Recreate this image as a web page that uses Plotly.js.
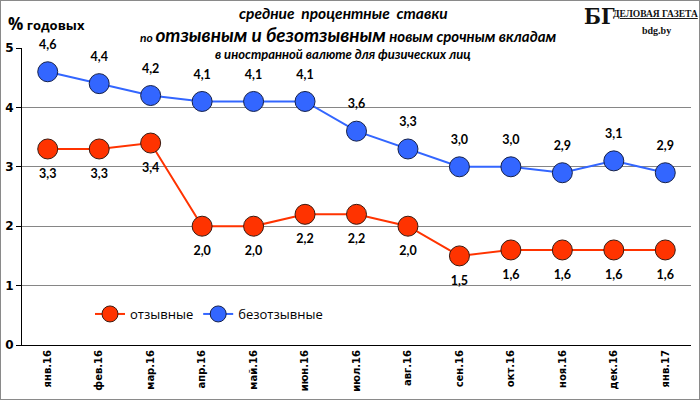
<!DOCTYPE html>
<html>
<head>
<meta charset="utf-8">
<script src="https://cdn.plot.ly/plotly-3.0.1.min.js"></script>
<style>
  body { margin: 0; }
  #chart { width: 700px; height: 400px; }
  #frame { position: absolute; left: 0; top: 0; width: 698px; height: 398px; border: 1px solid #8a8a8a; pointer-events: none; }
</style>
</head>
<body>
<div id="chart"></div>
<div id="frame"></div>
<script>
// months
const months = ['янв.16', 'фев.16', 'мар.16', 'апр.16', 'май.16', 'июн.16', 'июл.16',
  'авг.16', 'сен.16', 'окт.16', 'ноя.16', 'дек.16', 'янв.17'];

// series values, % годовых
const revocable = [3.3, 3.3, 3.4, 2.0, 2.0, 2.2, 2.2, 2.0, 1.5, 1.6, 1.6, 1.6, 1.6];
const irrevocable = [4.6, 4.4, 4.2, 4.1, 4.1, 4.1, 3.6, 3.3, 3.0, 3.0, 2.9, 3.1, 2.9];

const yTicks = [0, 1, 2, 3, 4, 5];

const toLabel = v => v.toFixed(1).replace('.', ',');

const labelFont = { family: 'Lato, sans-serif', size: 12.5, color: '#000', weight: 'bold' };

function series(name, values, color, edge) {
  return {
    x: months,
    y: values,
    name: name,
    mode: 'lines+markers',
    line: { color: color, width: 2 },
    marker: { color: color, size: 20, line: { color: edge, width: 1 } },
    cliponaxis: false,
  };
}

// text-only traces, bigger invisible marker pushes the labels a bit further out
function labels(values, position) {
  return {
    x: months,
    y: values,
    mode: 'markers+text',
    text: values.map(toLabel),
    textposition: position,
    textfont: labelFont,
    marker: { size: 30, opacity: 0 },
    showlegend: false,
    hoverinfo: 'skip',
    cliponaxis: false,
  };
}

const traces = [
  series('отзывные', revocable, '#ff3300', '#3a1a10'),
  series('безотзывные', irrevocable, '#3366ff', '#14204a'),
  labels(revocable, 'bottom center'),
  labels(irrevocable, 'top center'),
];

//plot area is 22..691 x 48..345
const px = x => (x - 22) / 669;
const py = y => (345 - y) / 297;

function note(text, x, y, font, xanchor) {
  return { text: text, xref: 'paper', yref: 'paper', x: px(x), y: py(y),
    xanchor: xanchor || 'center', yanchor: 'middle', showarrow: false, font: font };
}

const italic = size => ({ family: 'Lato, sans-serif', size: size, color: '#000', weight: 'bold', style: 'italic' });
const serif = size => ({ family: 'Liberation Serif, serif', size: size, color: '#111', weight: 'bold' });

const layout = {
  width: 700,
  height: 400,
  margin: { l: 22, r: 9, t: 48, b: 55 },
  paper_bgcolor: '#fff',
  plot_bgcolor: '#fff',
  showlegend: true,
  legend: {
    orientation: 'h',
    x: px(90),
    y: py(314),
    xanchor: 'left',
    yanchor: 'middle',
    bgcolor: 'rgba(0,0,0,0)',
    font: { family: 'Open Sans, sans-serif', size: 13, color: '#000' },
    itemwidth: 30,
  },
  xaxis: {
    type: 'category',
    range: [-0.5, 12.5],
    tickangle: -90,
    showgrid: false,
    showline: true,
    linecolor: '#000',
    linewidth: 1,
    ticks: '',
    tickfont: { family: 'DejaVu Sans, sans-serif', size: 10, color: '#000', weight: 'bold' },
    fixedrange: true,
  },
  yaxis: {
    range: [0, 5],
    tickvals: yTicks,
    ticktext: yTicks.map(String),
    showgrid: true,
    gridcolor: '#868686',
    gridwidth: 1,
    zeroline: false,
    showline: true,
    linecolor: '#000',
    linewidth: 1,
    ticks: 'outside',
    ticklen: 5,
    tickcolor: '#000',
    tickfont: { family: 'DejaVu Sans, sans-serif', size: 12, color: '#000', weight: 'bold' },
    fixedrange: true,
  },
  shapes: [
    // title box hides the top gridline
    { type: 'rect', xref: 'paper', yref: 'paper', x0: px(128), x1: px(569), y0: py(53), y1: py(43),
      fillcolor: '#fff', line: { width: 0 }, layer: 'above' },
  ],
  annotations: [
    note('средние  процентные  ставки', 343, 13, italic(15.5)),
    note('<span style="font-size:12px">по </span><span style="font-size:19px">отзывным и безотзывным</span> новым срочным вкладам',
      348, 34, italic(15)),
    note('в иностранной валюте для физических лиц', 343, 54, italic(13)),
    note('<span style="font-size:17px">%</span> годовых', 6, 24,
      { family: 'Open Sans, sans-serif', size: 13, color: '#000', weight: 'bold' }, 'left'),
    // logo
    note('БГ', 599, 16, { family: 'DejaVu Serif Condensed, Liberation Sans Narrow, serif', size: 22, color: '#111', weight: 'bold' }),
    note('<u>ДЕЛОВАЯ ГАЗЕТА</u>', 655, 14, serif(9.5)),
    note('bdg.by', 656, 30, serif(10)),
  ],
};

Plotly.newPlot('chart', traces, layout, { staticPlot: true });
</script>
</body>
</html>
